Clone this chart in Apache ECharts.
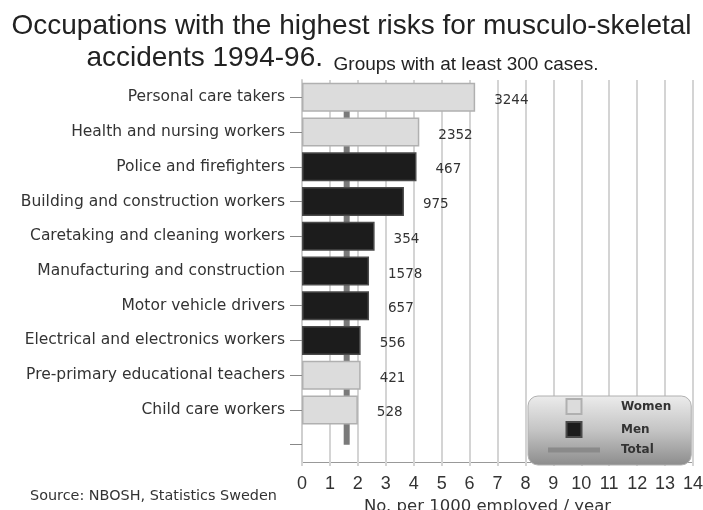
<!DOCTYPE html>
<html><head><meta charset="utf-8">
<script src="https://cdn.jsdelivr.net/npm/echarts@6/dist/echarts.min.js"></script>
<style>html,body{margin:0;padding:0;background:#fff}#c{width:703px;height:510px}</style>
</head><body><div id="c"></div>
<script>
const categories = ['Personal care takers','Health and nursing workers','Police and firefighters','Building and construction workers','Caretaking and cleaning workers','Manufacturing and construction','Motor vehicle drivers','Electrical and electronics workers','Pre-primary educational teachers','Child care workers',''];
const women = [6.2, 4.2, '-', '-', '-', '-', '-', '-', 2.1, 2.0, '-'];
const men = ['-', '-', 4.1, 3.65, 2.6, 2.4, 2.4, 2.1, '-', '-', '-'];
const total = [1.6, 1.6, 1.6, 1.6, 1.6, 1.6, 1.6, 1.6, 1.6, 1.6, 1.6];
const cases = ['3244','2352','467','975','354','1578','657','556','421','528',''];
const xTicks = [0,1,2,3,4,5,6,7,8,9,10,11,12,13,14];

const FF = "'Liberation Sans', Arial, sans-serif";
const FD = "'DejaVu Sans', 'Liberation Sans', sans-serif";
const chart = echarts.init(document.getElementById('c'));
const lbl = {
  show: true, position: 'right', distance: 19, offset: [0, 3],
  fontSize: 13.5, color: '#333', fontFamily: FD,
  formatter: p => cases[p.dataIndex]
};
chart.setOption({
  animation: false,
  textStyle: { fontFamily: FD },
  title: {
    left: 'center', top: 5,
    text: '{a|Occupations with the highest risks for musculo-skeletal}\n{a|accidents 1994-96.}{b|  Groups with at least 300 cases.}',
    textStyle: {
      fontWeight: 'normal',
      rich: {
        a: { fontSize: 28, color: '#222', fontFamily: FF, fontWeight: 'normal', lineHeight: 32 },
        b: { fontSize: 19, color: '#222', fontFamily: FF, fontWeight: 'normal', verticalAlign: 'bottom', lineHeight: 26, padding: [0, 18, 0, 0] }
      }
    }
  },
  grid: { left: 302, right: 10, top: 80, bottom: 48, containLabel: false, outerBoundsMode: 'none' },
  xAxis: {
    type: 'value', min: 0, max: 14, interval: 1,
    name: 'No. per 1000 employed / year', nameLocation: 'middle', nameGap: 34,
    nameTextStyle: { fontSize: 16.5, color: '#333', fontFamily: FD, padding: [0, 20, 0, 0] },
    axisLine: { show: true, lineStyle: { color: '#999', width: 1 } },
    axisTick: { show: true, length: 4, lineStyle: { color: '#d4d4d4', width: 2 } },
    axisLabel: { fontSize: 18, color: '#333', margin: 13, fontFamily: FF, formatter: v => String(xTicks[v] ?? v) },
    splitLine: { show: true, lineStyle: { color: '#d4d4d4', width: 2 } }
  },
  yAxis: {
    type: 'category', data: categories, inverse: true,
    axisLine: { show: true, lineStyle: { color: '#cfcfcf', width: 2 } },
    axisTick: { show: true, alignWithLabel: true, length: 12, lineStyle: { color: '#888' } },
    axisLabel: { fontSize: 15.5, color: '#333', margin: 17, fontFamily: FD },
    splitLine: { show: false }
  },
  legend: {
    orient: 'vertical', left: 528, top: 396,
    padding: [2, 20, 9, 20], itemGap: 6, itemWidth: 52, itemHeight: 15,
    backgroundColor: new echarts.graphic.LinearGradient(0, 0, 0, 1, [
      { offset: 0, color: '#ececec' }, { offset: 0.5, color: '#c4c4c4' }, { offset: 1, color: '#8c8c8c' }
    ]),
    borderColor: '#b0b0b0', borderWidth: 1, borderRadius: 10,
    textStyle: { fontSize: 12, fontWeight: 'bold', color: '#333', fontFamily: FD, padding: [0, 0, 0, 16] },
    data: [
      { name: 'Women', icon: 'path://M0,0H10V10H0Z' },
      { name: 'Men', icon: 'path://M0,0H10V10H0Z' },
      { name: 'Total', icon: 'path://M0,0H52V5H0Z' }
    ]
  },
  series: [
    {
      name: 'Total', type: 'line', data: total, symbol: 'none', z: 1,
      lineStyle: { color: '#7a7a7a', width: 6 }, itemStyle: { color: '#8a8a8a' }
    },
    {
      name: 'Women', type: 'bar', stack: 's', data: women, barWidth: 29, z: 3,
      itemStyle: { color: '#dcdcdc', borderColor: '#b0b0b0', borderWidth: 1.5 },
      label: lbl
    },
    {
      name: 'Men', type: 'bar', stack: 's', data: men, barWidth: 29, z: 3,
      itemStyle: { color: '#1c1c1c', borderColor: '#4a4a4a', borderWidth: 1.5 },
      label: lbl
    }
  ],
  graphic: [
    { type: 'text', left: 30, top: 489, style: { text: 'Source: NBOSH, Statistics Sweden', fontSize: 14.4, fill: '#333', fontFamily: FD } }
  ]
});
</script></body></html>
